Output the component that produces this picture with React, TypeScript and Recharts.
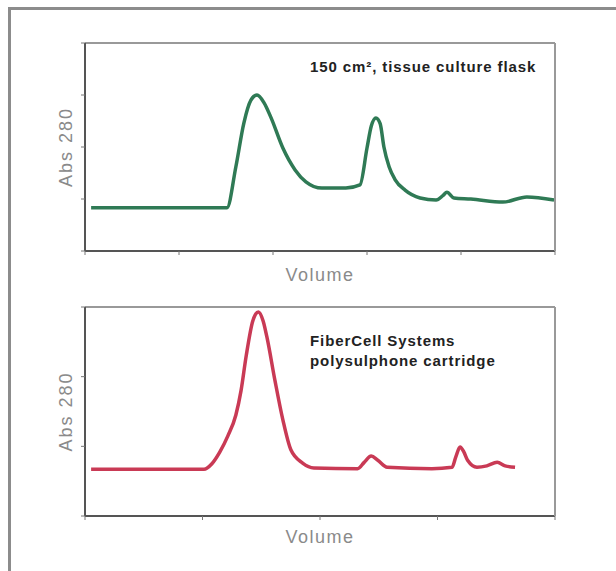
import React from "react";
import { LineChart, Line, XAxis, YAxis, Label } from "recharts";

// chromatogram traces: volume (0-100) vs absorbance
const flaskVolume = [1.3, 30.2, 32.1, 33.8, 35.3, 36.6, 38.1, 39.6, 42.1, 44.7, 47.0, 50.4, 55.5, 58.5, 60.0, 60.9, 61.9, 62.8, 63.6, 64.7, 66.0, 68.1, 71.3, 74.7, 76.2, 77.0, 78.5, 82.1, 88.9, 94.0, 99.8];
const flaskAbs = [0.83, 0.83, 1.62, 2.46, 2.9, 3.0, 2.85, 2.56, 1.98, 1.56, 1.33, 1.21, 1.21, 1.27, 1.98, 2.4, 2.56, 2.45, 2.0, 1.62, 1.37, 1.17, 1.02, 0.98, 1.07, 1.13, 1.02, 1.0, 0.94, 1.04, 0.98];

const fiberVolume = [1.3, 25.3, 27.0, 28.7, 30.4, 32.1, 33.2, 34.3, 35.7, 36.9, 37.9, 38.7, 40.4, 42.1, 43.8, 46.3, 48.7, 58.0, 59.4, 60.9, 62.3, 64.3, 73.8, 78.1, 78.9, 79.8, 80.6, 81.4, 83.4, 85.5, 87.7, 89.4, 91.5];
const fiberAbs = [0.67, 0.67, 0.75, 0.92, 1.15, 1.45, 1.8, 2.3, 2.8, 2.93, 2.8, 2.57, 1.95, 1.38, 0.95, 0.76, 0.69, 0.68, 0.77, 0.86, 0.8, 0.7, 0.68, 0.7, 0.85, 0.99, 0.92, 0.8, 0.7, 0.72, 0.77, 0.72, 0.7];

const flaskTicksX = [0, 20, 40, 60, 80, 100];
const flaskTicksY = [0, 1, 2, 3, 4];
const fiberTicksX = [0, 25, 50, 75, 100];
const fiberTicksY = [0, 1, 2, 3];

const flaskData = flaskVolume.map((v, i) => ({ v, a: flaskAbs[i] }));
const fiberData = fiberVolume.map((v, i) => ({ v, a: fiberAbs[i] }));

const FONT = "'Liberation Sans', Arial, sans-serif";
const LABEL_COLOR = "#8a8a8a";

const yLabel = (props: any) => {
  const vb = props.viewBox;
  const x = vb.x - 12;
  const y = vb.y + vb.height / 2;
  return (
    <text x={x} y={y} transform={`rotate(-90, ${x}, ${y})`} textAnchor="middle" fill={LABEL_COLOR} fontSize={18} letterSpacing={2} fontFamily={FONT}>
      Abs 280
    </text>
  );
};

interface PanelProps {
  data: { v: number; a: number }[];
  ticksX: number[];
  ticksY: number[];
  color: string;
  height: number;
  margin: { top: number; right: number; bottom: number; left: number };
  labelOffset: number;
}

function Panel({ data, ticksX, ticksY, color, height, margin, labelOffset }: PanelProps) {
  const yMax = ticksY[ticksY.length - 1];
  return (
    <LineChart width={616} height={height} data={data} margin={margin}>
      <XAxis
        dataKey="v"
        type="number"
        domain={[0, 100]}
        ticks={ticksX}
        tickFormatter={() => ""}
        tickSize={4}
        height={1}
        axisLine={{ stroke: "#555", strokeWidth: 2 }}
        tickLine={{ stroke: "#777" }}
      >
        <Label value="Volume" position="bottom" offset={labelOffset} fill={LABEL_COLOR} fontSize={18} letterSpacing={1.5} fontFamily={FONT} />
      </XAxis>
      <XAxis xAxisId="top" orientation="top" type="number" domain={[0, 100]} tick={false} tickLine={false} height={1} axisLine={{ stroke: "#999", strokeWidth: 2 }} />
      <YAxis
        type="number"
        domain={[0, yMax]}
        ticks={ticksY}
        tickFormatter={() => ""}
        tickSize={4}
        width={1}
        axisLine={{ stroke: "#555", strokeWidth: 2 }}
        tickLine={{ stroke: "#777" }}
        label={{ content: yLabel }}
      />
      <YAxis yAxisId="right" orientation="right" type="number" domain={[0, yMax]} tick={false} tickLine={false} width={1} axisLine={{ stroke: "#999", strokeWidth: 2 }} />
      <Line type="monotone" dataKey="a" stroke={color} strokeWidth={3.5} dot={false} isAnimationActive={false} />
    </LineChart>
  );
}

const noteStyle: React.CSSProperties = {
  position: "absolute",
  left: 310,
  fontSize: 15,
  fontWeight: 700,
  letterSpacing: 0.9,
  lineHeight: "20px",
  color: "#222",
  whiteSpace: "nowrap",
};

export default function App() {
  return (
    <div style={{ position: "absolute", left: 0, top: 0, width: 616, height: 571, background: "#fff", fontFamily: FONT }}>
      <div style={{ position: "absolute", left: 8, top: 7, width: 608, height: 564, borderTop: "3px solid #8c8c8c", borderLeft: "3px solid #8c8c8c", boxSizing: "border-box" }} />
      <div style={{ position: "absolute", left: 0, top: 0 }}>
        <Panel
          data={flaskData}
          ticksX={flaskTicksX}
          ticksY={flaskTicksY}
          color="#2f7a55"
          height={290}
          margin={{ top: 42, right: 60, bottom: 38, left: 84 }}
          labelOffset={16}
        />
        <div style={{ ...noteStyle, top: 57 }}>150 cm², tissue culture flask</div>
      </div>
      <div style={{ position: "absolute", left: 0, top: 290 }}>
        <Panel
          data={fiberData}
          ticksX={fiberTicksX}
          ticksY={fiberTicksY}
          color="#c93a55"
          height={281}
          margin={{ top: 16, right: 60, bottom: 54, left: 84 }}
          labelOffset={13}
        />
        <div style={{ ...noteStyle, top: 41 }}>
          FiberCell Systems
          <br />
          polysulphone cartridge
        </div>
      </div>
    </div>
  );
}
